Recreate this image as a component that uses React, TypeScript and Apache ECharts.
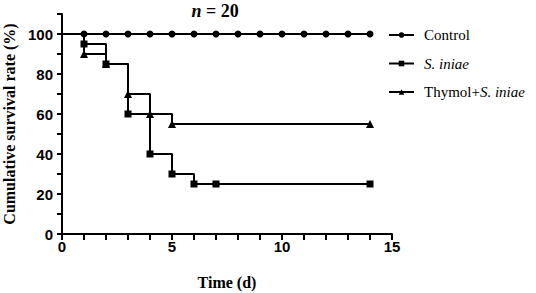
import React, { useEffect, useRef } from "react";
import * as echarts from "echarts";

const seriesNames = ["Control", "S. iniae", "Thymol+S. iniae"];
const controlDays = [0, 1, 2, 3, 4, 5, 6, 7, 8, 9, 10, 11, 12, 13, 14];
const controlRate = [100, 100, 100, 100, 100, 100, 100, 100, 100, 100, 100, 100, 100, 100, 100];
const iniaeDays = [0, 1, 2, 3, 4, 5, 6, 7, 14];
const iniaeRate = [100, 95, 85, 60, 40, 30, 25, 25, 25];
const thymolDays = [0, 1, 2, 3, 4, 5, 14];
const thymolRate = [100, 90, 85, 70, 60, 55, 55];
const yTickLabels = ["0", "20", "40", "60", "80", "100"];
const xTickLabels = ["0", "5", "10", "15"];

const SERIF = "'Liberation Serif', 'Times New Roman', serif";
const SANS = "'Liberation Sans', Arial, sans-serif";

function toData(days: number[], rates: number[]) {
  return days.map((d, i) =>
    i === 0 ? { value: [d, rates[i]], symbol: "none" } : { value: [d, rates[i]] }
  );
}

export default function App() {
  const ref = useRef<HTMLDivElement>(null);
  useEffect(() => {
    document.body.style.margin = "0";
    if (!ref.current) return;
    const chart = echarts.init(ref.current, undefined, { renderer: "svg" });
    const symbols = ["circle", "rect", "triangle"];
    const sizes = [7, 7, 8];
    const datas = [
      toData(controlDays, controlRate),
      toData(iniaeDays, iniaeRate),
      toData(thymolDays, thymolRate),
    ];
    chart.setOption({
      animation: false,
      grid: { left: 62, top: 14, right: 144, bottom: 59, containLabel: false, outerBoundsMode: "none" },
      graphic: [
        {
          type: "text",
          x: 215,
          y: 11,
          style: {
            text: "{i|n}{b| = 20}",
            textAlign: "center",
            textVerticalAlign: "middle",
            fill: "#000",
            rich: {
              i: { fontFamily: SERIF, fontStyle: "italic", fontWeight: "bold", fontSize: 18, fill: "#000" },
              b: { fontFamily: SERIF, fontWeight: "bold", fontSize: 18, fill: "#000" },
            },
          },
        },
      ],
      legend: {
        orient: "vertical",
        left: 388,
        top: 27,
        itemWidth: 25,
        itemHeight: 7,
        itemGap: 12.5,
        padding: 0,
        data: seriesNames,
        formatter: (name: string) => {
          if (name === "S. iniae") return "{i|S. iniae}";
          if (name === "Thymol+S. iniae") return "{r|Thymol+}{i|S. iniae}";
          return "{r|" + name + "}";
        },
        textStyle: {
          fontFamily: SERIF,
          fontSize: 15,
          color: "#000",
          lineHeight: 16,
          padding: [0, 0, 0, 5],
          rich: {
            r: { fontFamily: SERIF, fontSize: 15, lineHeight: 16, color: "#000" },
            i: { fontFamily: SERIF, fontSize: 15, lineHeight: 16, fontStyle: "italic", color: "#000" },
          },
        },
      },
      xAxis: {
        type: "value",
        min: 0,
        max: 15,
        interval: 1,
        name: "Time (d)",
        nameLocation: "middle",
        nameGap: 40,
        nameTextStyle: { fontFamily: SERIF, fontWeight: "bold", fontSize: 16, color: "#000" },
        axisLine: { show: true, lineStyle: { color: "#000", width: 2 } },
        axisTick: { show: true, length: 6, lineStyle: { color: "#000", width: 2 } },
        splitLine: { show: false },
        axisLabel: {
          margin: 5,
          fontFamily: SANS,
          fontWeight: "bold",
          fontSize: 15,
          color: "#000",
          formatter: (v: number) => (xTickLabels.includes(String(v)) ? String(v) : ""),
        },
      },
      yAxis: {
        type: "value",
        min: 0,
        max: 110,
        interval: 10,
        name: "Cumulative survival rate (%)",
        nameLocation: "middle",
        nameGap: 44,
        nameTextStyle: { fontFamily: SERIF, fontWeight: "bold", fontSize: 16, color: "#000" },
        axisLine: { show: true, lineStyle: { color: "#000", width: 2 } },
        axisTick: { show: true, length: 5, lineStyle: { color: "#000", width: 2 } },
        splitLine: { show: false },
        axisLabel: {
          margin: 9,
          fontFamily: SANS,
          fontWeight: "bold",
          fontSize: 15,
          color: "#000",
          formatter: (v: number) => (yTickLabels.includes(String(v)) ? String(v) : ""),
        },
      },
      series: seriesNames.map((name, i) => ({
        name,
        type: "line",
        step: "end",
        data: datas[i],
        symbol: symbols[i],
        symbolSize: sizes[i],
        showAllSymbol: true,
        lineStyle: { color: "#000", width: 2 },
        itemStyle: { color: "#000" },
        emphasis: { disabled: true },
      })),
    });
    return () => chart.dispose();
  }, []);
  return <div ref={ref} style={{ width: 536, height: 293 }} />;
}
